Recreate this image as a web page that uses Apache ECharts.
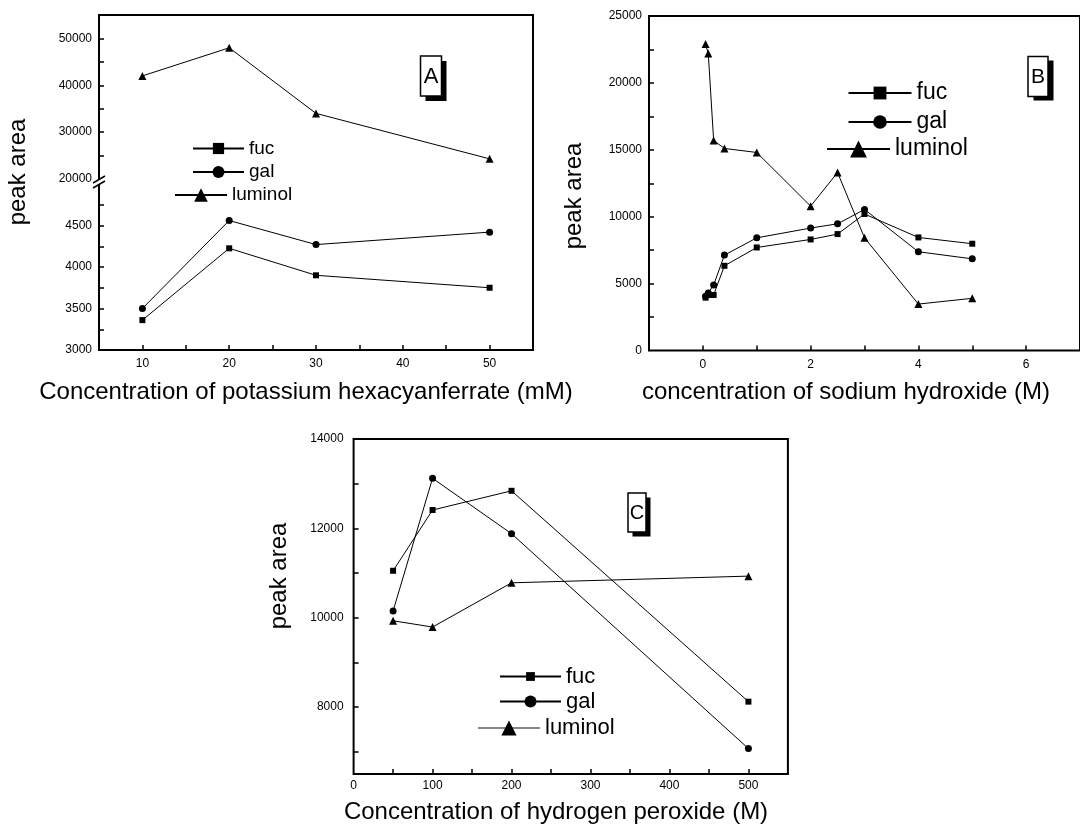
<!DOCTYPE html>
<html><head><meta charset="utf-8">
<script src="https://cdn.jsdelivr.net/npm/echarts@6/dist/echarts.min.js"></script>
<style>html,body{margin:0;padding:0;background:#fff}#c{width:1080px;height:828px}</style>
</head><body><div id="c"></div>
<script>
// ---- Panel A: potassium hexacyanoferrate (mM) ----
const aX = [10, 20, 30, 50];
const aFuc = [3360, 4225, 3900, 3750];
const aGal = [3500, 4560, 4270, 4420];
const aLum = [42000, 48000, 34000, 24300];
// ---- Panel B: sodium hydroxide (M) ----
const bX = [0.05, 0.1, 0.2, 0.4, 1, 2, 2.5, 3, 4, 5];
const bFuc = [3950, 4150, 4150, 6330, 7700, 8300, 8700, 10200, 8450, 7980];
const bGal = [4050, 4300, 4900, 7130, 8420, 9150, 9470, 10540, 7380, 6850];
const bLum = [22900, 22200, 15700, 15100, 14800, 10790, 13300, 8420, 3470, 3900];
// ---- Panel C: hydrogen peroxide (M) ----
const cX = [50, 100, 200, 500];
const cFuc = [11050, 12410, 12840, 8120];
const cGal = [10150, 13120, 11880, 7070];
const cLum = [9930, 9790, 10780, 10930];
// ---- tick labels / tick marks ----
const aXLabels = [10, 20, 30, 40, 50];
const aXTicks = [10, 15, 20, 25, 30, 35, 40, 45, 50];
const aYLowLabels = [3000, 3500, 4000, 4500];
const aYLowTicks = [3250, 3500, 3750, 4000, 4250, 4500, 4750];
const aYUpLabels = [20000, 30000, 40000, 50000];
const aYUpTicks = [20000, 25000, 30000, 35000, 40000, 45000, 50000];
const bXLabels = [0, 2, 4, 6];
const bXTicks = [0, 1, 2, 3, 4, 5, 6];
const bYLabels = [0, 5000, 10000, 15000, 20000, 25000];
const bYTicks = [2500, 5000, 7500, 10000, 12500, 15000, 17500, 20000, 22500];
const cXLabels = [0, 100, 200, 300, 400, 500];
const cXTicks = [50, 100, 150, 200, 250, 300, 350, 400, 450, 500];
const cYLabels = [8000, 10000, 12000, 14000];
const cYTicks = [7000, 8000, 9000, 10000, 11000, 12000, 13000];
const seriesNames = ['fuc', 'gal', 'luminol'];
const symbols = ['rect', 'circle', 'triangle'];
const symbolSizes = [6, 7, 8];

const FF = '"Liberation Sans", Arial, Helvetica, sans-serif';
const pairs = (xs, ys) => xs.map((x, i) => [x, ys[i]]);

function valAxis(gridIndex, min, max, labels, ticks, margin) {
  return {
    type: 'value', gridIndex, min, max,
    axisLine: { show: false, onZero: false },
    splitLine: { show: false },
    axisTick: { show: true, inside: true, length: 5, customValues: ticks, lineStyle: { color: '#000', width: 1.5 } },
    axisLabel: { show: true, customValues: labels, fontSize: 12, fontFamily: FF, color: '#000', margin: margin || 7,
      formatter: v => String(v) }
  };
}
function hiddenAxis(gridIndex, min, max) {
  return { type: 'value', gridIndex, min, max, show: false, splitLine: { show: false }, axisLine: { onZero: false } };
}
function line(name, idx, xIdx, yIdx, data) {
  return {
    type: 'line', name, xAxisIndex: xIdx, yAxisIndex: yIdx, data,
    symbol: symbols[idx], symbolSize: symbolSizes[idx],
    itemStyle: { color: '#000' },
    lineStyle: { color: '#000', width: 1 },
    emphasis: { disabled: true }, animation: false
  };
}
function leg(name, left, cy, iw, ih, fs, extra) {
  return {
    data: [Object.assign({ name }, extra || {})],
    left, top: cy - ih / 2, orient: 'horizontal',
    itemWidth: iw, itemHeight: ih, padding: 0, itemGap: 0, selectedMode: false,
    textStyle: { fontSize: fs, fontFamily: FF, color: '#000', lineHeight: ih }
  };
}
function panelLabel(letter, x, y, w, h, dx, dy, fs) {
  return [
    { type: 'rect', z: 100, shape: { x: x + dx, y: y + dy, width: w, height: h }, style: { fill: '#000' } },
    { type: 'rect', z: 101, shape: { x, y, width: w, height: h }, style: { fill: '#fff', stroke: '#000', lineWidth: 1.5 } },
    { type: 'text', z: 102, x: x + w / 2, y: y + h / 2 + 1, style: { text: letter, font: fs + 'px ' + FF, fill: '#000', align: 'center', verticalAlign: 'middle' } }
  ];
}
function title(text, x, y, rot) {
  return { type: 'text', z: 100, x, y, rotation: rot ? Math.PI / 2 : 0,
    style: { text, font: '24px ' + FF, fill: '#000', align: 'center', verticalAlign: 'middle' } };
}

const W = 1080, H = 828;
const grids = [
  { left: 99, right: W - 533, top: 184, bottom: H - 350, show: false },          // 0 A lower
  { left: 99, right: W - 533, top: 15, bottom: H - 179, show: false },           // 1 A upper
  { left: 99, right: W - 533, top: 15, bottom: H - 350, show: true, borderColor: '#000', borderWidth: 2 }, // 2 A frame
  { left: 649, right: W - 1142, top: 16, bottom: H - 350.5, show: true, borderColor: '#000', borderWidth: 2 }, // 3 B
  { left: 353.6, right: W - 787.9, top: 439, bottom: H - 774, show: true, borderColor: '#000', borderWidth: 2 } // 4 C
];
const xAxes = [
  valAxis(0, 5, 55, aXLabels, aXTicks, 8),
  hiddenAxis(1, 5, 55),
  hiddenAxis(2, 0, 1),
  valAxis(3, -1, 7, bXLabels, bXTicks, 8),
  valAxis(4, 0, 550, cXLabels, cXTicks, 6)
];
const yAxes = [
  valAxis(0, 3000, 5000, aYLowLabels, aYLowTicks, 7),
  valAxis(1, 20000, 55000, aYUpLabels, aYUpTicks, 7),
  hiddenAxis(2, 0, 1),
  valAxis(3, 0, 25000, bYLabels, bYTicks, 7),
  valAxis(4, 6500, 14000, cYLabels, cYTicks, 10)
];
const series = [
  line(seriesNames[0], 0, 0, 0, pairs(aX, aFuc)),
  line(seriesNames[1], 1, 0, 0, pairs(aX, aGal)),
  line(seriesNames[2], 2, 1, 1, pairs(aX, aLum)),
  line(seriesNames[0], 0, 3, 3, pairs(bX, bFuc)),
  line(seriesNames[1], 1, 3, 3, pairs(bX, bGal)),
  line(seriesNames[2], 2, 3, 3, pairs(bX, bLum)),
  line(seriesNames[0], 0, 4, 4, pairs(cX, cFuc)),
  line(seriesNames[1], 1, 4, 4, pairs(cX, cGal)),
  line(seriesNames[2], 2, 4, 4, pairs(cX, cLum))
];
const legends = [
  leg('fuc', 192, 146, 51, 14, 19),
  leg('gal', 192, 170, 51, 15, 19),
  leg('luminol', 174, 194, 52, 17, 19),
  leg('fuc', 847.5, 89.5, 63, 16, 23),
  leg('gal', 847.5, 119, 63, 17, 23),
  leg('luminol', 826, 148, 63, 21, 23),
  leg('fuc', 499, 671, 61, 11, 22),
  leg('gal', 499, 698, 61, 15, 22),
  leg('luminol', 477, 726.5, 62, 19, 22, { lineStyle: { color: '#888' } })
];
const graphics = [
  // axis break marks on panel A
  { type: 'polygon', z: 100, shape: { points: [[93, 183], [105, 176], [105, 181], [93, 188]] }, style: { fill: '#fff' } },
  { type: 'line', z: 101, shape: { x1: 93, y1: 183, x2: 105, y2: 176 }, style: { stroke: '#000', lineWidth: 1.5 } },
  { type: 'line', z: 101, shape: { x1: 93, y1: 188, x2: 105, y2: 181 }, style: { stroke: '#000', lineWidth: 1.5 } },
  title('peak area', 18, 172, true),
  title('Concentration of potassium hexacyanferrate (mM)', 306, 392, false),
  title('peak area', 574, 196, true),
  title('concentration of sodium hydroxide (M)', 846, 392, false),
  title('peak area', 279, 576, true),
  title('Concentration of hydrogen peroxide (M)', 556, 812, false)
].concat(
  panelLabel('A', 420.5, 56, 21, 40, 5, 5, 22),
  panelLabel('B', 1028, 56.5, 20, 40, 5.5, 4, 21),
  panelLabel('C', 628, 493, 18, 39, 4.5, 4.5, 20)
);

const chart = echarts.init(document.getElementById('c'), null, { renderer: 'canvas' });
chart.setOption({
  backgroundColor: '#fff',
  animation: false,
  grid: grids,
  xAxis: xAxes,
  yAxis: yAxes,
  legend: legends,
  series,
  graphic: graphics
});
</script></body></html>
